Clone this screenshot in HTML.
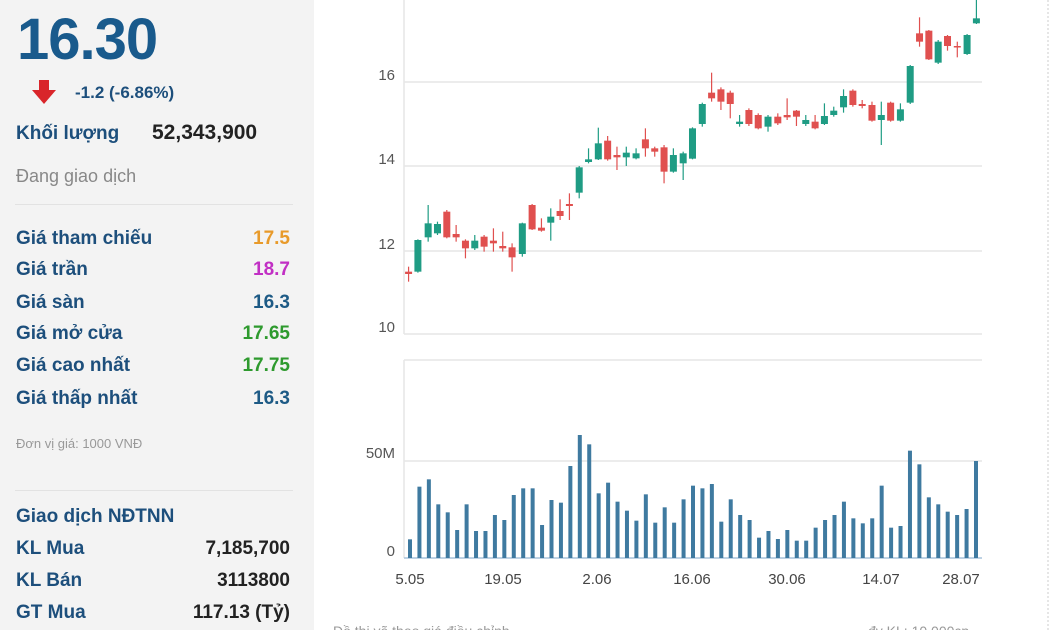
<!DOCTYPE html>
<html><head><meta charset="utf-8"><style>
html,body{margin:0;padding:0;width:1050px;height:630px;overflow:hidden;background:#fff;font-family:"Liberation Sans",sans-serif}
#left{position:absolute;left:0;top:0;width:314px;height:630px;background:#f3f3f3}
.t{position:absolute;white-space:nowrap}
.lb{color:#1d4f7c;font-size:19px;font-weight:bold}
.v{right:24px;font-size:19px;text-align:right;font-weight:bold}
.hr{position:absolute;left:15px;width:278px;height:1px;background:#e2e2e2}
</style></head><body>
<div id="left">
<div class="t" style="left:17px;top:6px;font-size:58px;font-weight:bold;color:#195a8c;letter-spacing:-1px">16.30</div>
<svg class="t" style="left:31px;top:80px" width="26" height="26"><polygon points="8,0 18,0 18,10 25,10 13,24 1,10 8,10" fill="#d9252a"/></svg>
<div class="t" style="left:75px;top:83px;font-size:17px;color:#1d4f7c;font-weight:bold">-1.2 (-6.86%)</div>
<div class="t lb" style="left:16px;top:123px">Khối lượng</div>
<div class="t" style="left:152px;top:121px;font-size:21px;font-weight:bold;color:#222">52,343,900</div>
<div class="t" style="left:16px;top:166px;font-size:18px;color:#888">Đang giao dịch</div>
<div class="hr" style="top:204px"></div>
<div class="t lb" style="left:16px;top:228px">Giá tham chiếu</div><div class="t v" style="top:228px;color:#e89a2a">17.5</div>
<div class="t lb" style="left:16px;top:259px">Giá trần</div><div class="t v" style="top:259px;color:#c12fc4">18.7</div>
<div class="t lb" style="left:16px;top:292px">Giá sàn</div><div class="t v" style="top:292px;color:#1d5a85">16.3</div>
<div class="t lb" style="left:16px;top:323px">Giá mở cửa</div><div class="t v" style="top:323px;color:#2e9a2e">17.65</div>
<div class="t lb" style="left:16px;top:355px">Giá cao nhất</div><div class="t v" style="top:355px;color:#2e9a2e">17.75</div>
<div class="t lb" style="left:16px;top:388px">Giá thấp nhất</div><div class="t v" style="top:388px;color:#1d5a85">16.3</div>
<div class="t" style="left:16px;top:436px;font-size:13px;color:#999">Đơn vị giá: 1000 VNĐ</div>
<div class="hr" style="top:490px"></div>
<div class="t lb" style="left:16px;top:506px">Giao dịch NĐTNN</div>
<div class="t lb" style="left:16px;top:538px">KL Mua</div><div class="t v" style="top:538px;color:#222">7,185,700</div>
<div class="t lb" style="left:16px;top:570px">KL Bán</div><div class="t v" style="top:570px;color:#222">3113800</div>
<div class="t lb" style="left:16px;top:602px">GT Mua</div><div class="t v" style="top:602px;color:#222">117.13 (Tỷ)</div>
</div>
<svg id="c" style="position:absolute;left:0;top:0" width="1050" height="630" font-family="Liberation Sans, sans-serif">
<line x1="1048" y1="0" x2="1048" y2="630" stroke="#ccc" stroke-dasharray="2,2"/>
<g stroke="#e6e6e6" stroke-width="1.5">
<line x1="404" y1="82" x2="982" y2="82"/><line x1="404" y1="166" x2="982" y2="166"/>
<line x1="404" y1="251" x2="982" y2="251"/><line x1="404" y1="334" x2="982" y2="334"/>
<line x1="404" y1="0" x2="404" y2="334"/>
<line x1="404" y1="360" x2="982" y2="360"/><line x1="404" y1="461" x2="982" y2="461"/>
<line x1="404" y1="360" x2="404" y2="558"/>
</g>
<line x1="404" y1="558" x2="982" y2="558" stroke="#a9c4dc" stroke-width="1.5"/>
<g fill="#555" font-size="15" text-anchor="end">
<text x="395" y="80">16</text><text x="395" y="164">14</text><text x="395" y="249">12</text><text x="395" y="332">10</text>
<text x="395" y="458">50M</text><text x="395" y="556">0</text>
</g>
<g fill="#444" font-size="15" text-anchor="middle">
<text x="410" y="584">5.05</text><text x="503" y="584">19.05</text><text x="597" y="584">2.06</text><text x="692" y="584">16.06</text><text x="787" y="584">30.06</text><text x="881" y="584">14.07</text><text x="961" y="584">28.07</text>
</g>
<text x="333" y="636" font-size="14" fill="#999">Đồ thị vẽ theo giá điều chỉnh</text>
<text x="868" y="636" font-size="14" fill="#999">đv KL: 10,000cp</text>
<g id="g"></g>
</svg>
<script>
var C=[[190,815,822,800,845,0],[210,720,815,718,818,1],[232,670,712,615,725,1],[252,672,700,665,705,1],[272,635,712,630,715,0],[292,702,712,675,725,0],[312,722,745,718,775,0],[332,722,745,705,750,1],[352,710,740,705,755,0],[372,722,730,685,755,0],[392,738,745,695,755,0],[412,742,772,730,815,0],[434,670,762,668,770,1],[455,615,688,612,690,0],[475,683,692,655,695,0],[495,650,668,625,722,1],[515,633,648,598,660,0],[535,612,618,580,660,0],[556,502,578,498,595,1],[576,478,486,445,490,1],[597,430,478,383,480,1],[617,422,478,408,482,0],[637,465,472,440,510,0],[657,458,472,440,498,1],[678,460,475,445,478,1],[698,418,445,385,470,0],[718,445,455,440,470,0],[738,442,515,435,550,0],[758,465,515,445,518,1],[779,460,490,455,540,1],[799,385,476,382,478,1],[820,312,372,308,380,1],[840,278,295,218,305,0],[860,268,305,262,330,0],[880,278,312,272,355,0],[900,365,372,345,380,1],[920,330,372,325,378,0],[940,345,385,340,388,0],[961,350,380,345,395,1],[982,350,370,340,375,0],[1002,345,352,295,360,0],[1022,332,350,330,378,0],[1042,360,372,345,378,1],[1062,365,385,345,388,0],[1082,348,372,310,375,1],[1102,332,345,320,350,1],[1123,288,322,268,338,1],[1143,272,315,268,320,0],[1163,312,318,300,325,0],[1184,315,362,305,365,0],[1204,345,360,305,435,1],[1224,308,362,305,365,0],[1245,328,362,310,365,1],[1266,198,308,195,312,1],[1286,100,125,52,140,0],[1306,92,178,90,180,0],[1326,125,188,120,192,1],[1346,108,138,105,152,0],[1367,138,140,125,172,0],[1388,105,162,102,165,1],[1408,55,70,0,72,1]];
var V=[568,410,388,463,487,540,463,543,543,495,510,435,415,415,525,450,458,348,255,283,430,398,455,482,512,433,518,472,518,448,407,415,402,515,448,495,510,563,543,567,540,572,572,533,510,495,455,505,520,505,407,533,528,302,343,442,463,485,495,477,333];
var s='';
C.forEach(function(c,i){var x=320+c[0]/2.145,col=c[5]?'#1f9c84':'#e0504f';
var t=c[1]/3,b=c[2]/3;if(b-t<1.5)b=t+1.5;
s+='<line x1="'+x+'" x2="'+x+'" y1="'+c[3]/3+'" y2="'+c[4]/3+'" stroke="'+col+'" stroke-width="1.2"/>';
s+='<rect x="'+(x-3.5)+'" y="'+t+'" width="7" height="'+(b-t)+'" fill="'+col+'"/>';
var vx=410+i*(976-410)/60,vy=350+V[i]/3;
s+='<rect x="'+(vx-2)+'" y="'+vy+'" width="4" height="'+(558-vy)+'" fill="#3f7aa0"/>';});
document.getElementById('g').innerHTML=s;
</script>
</body></html>
